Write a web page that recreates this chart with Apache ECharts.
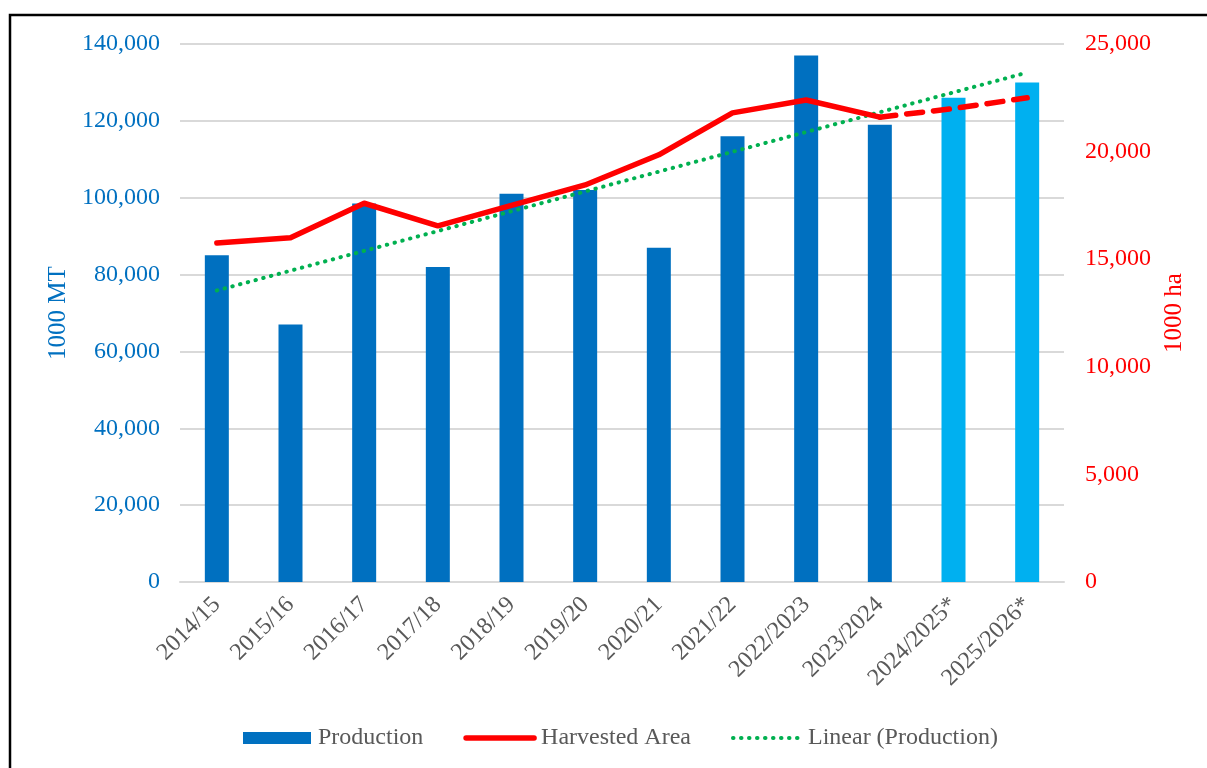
<!DOCTYPE html>
<html>
<head>
<meta charset="utf-8">
<script src="https://cdn.jsdelivr.net/npm/echarts@6/dist/echarts.min.js"></script>
<style>
  html, body { margin: 0; padding: 0; background: #fff; }
  #chart { width: 1207px; height: 768px; }
</style>
</head>
<body>
<div id="chart"></div>
<script>
// Marketing years on the category axis (* = forecast)
const seasons = ['2014/15', '2015/16', '2016/17', '2017/18', '2018/19', '2019/20',
  '2020/21', '2021/22', '2022/2023', '2023/2024', '2024/2025*', '2025/2026*'];

// Production, 1000 MT
const production = [85000, 67000, 98500, 82000, 101000, 102000,
  87000, 116000, 137000, 119000, 126000, 130000];

// Harvested area, 1000 ha (reported years, then forecast years)
const harvestedArea = [15750, 16000, 17600, 16550, 17500, 18450,
  19850, 21800, 22400, 21600, null, null];
const harvestedForecast = [null, null, null, null, null, null,
  null, null, null, 21600, 22000, 22500];

// Number of forecast seasons shown in the lighter bar colour
const forecastCount = 2;

// Axis tick settings
const prodTicks = { min: 0, max: 140000, interval: 20000 };
const areaTicks = { min: 0, max: 25000, interval: 5000 };

// Least-squares linear trend of production over the season index
function linearTrend(values) {
  const n = values.length;
  let sx = 0, sy = 0, sxx = 0, sxy = 0;
  values.forEach((y, i) => { const x = i + 1; sx += x; sy += y; sxx += x * x; sxy += x * y; });
  const slope = (n * sxy - sx * sy) / (n * sxx - sx * sx);
  const icpt = (sy - slope * sx) / n;
  return values.map((_, i) => slope * (i + 1) + icpt);
}
const trend = linearTrend(production);

const SERIF = '"Liberation Serif", "Times New Roman", serif';
const BLUE = '#0070C0';
const LIGHT_BLUE = '#00B0F0';
const RED = '#FF0000';
const GREEN = '#00B050';

const redLine = { color: RED, width: 5.5, cap: 'round', join: 'round' };
const greenDots = { color: GREEN, width: 4, type: [0.5, 7.5], cap: 'round' };

const chart = echarts.init(document.getElementById('chart'), null, { renderer: 'canvas' });

chart.setOption({
  backgroundColor: '#ffffff',
  animation: false,
  graphic: [{
    type: 'rect',
    shape: { x: 10, y: 15, width: 1400, height: 900 },
    style: { fill: 'none', stroke: '#000', lineWidth: 2.5 },
    z: 100
  }],
  grid: { left: 180, right: 143, top: 44, bottom: 186 },
  legend: {
    left: 238,
    top: 721,
    itemWidth: 68,
    itemHeight: 12,
    itemGap: 40,
    data: [
      { name: 'Production', icon: 'rect' },
      { name: 'Harvested Area', itemStyle: { opacity: 0 }, lineStyle: redLine },
      { name: 'Linear (Production)', itemStyle: { opacity: 0 }, lineStyle: greenDots }
    ],
    textStyle: { fontFamily: SERIF, fontSize: 24, color: '#595959', padding: [0, 0, 0, 2] }
  },
  xAxis: {
    type: 'category',
    data: seasons,
    axisLine: { lineStyle: { color: '#d9d9d9', width: 2 } },
    axisTick: { show: false },
    axisLabel: {
      rotate: 45,
      margin: 19,
      interval: 0,
      fontFamily: SERIF,
      fontSize: 24,
      color: '#595959'
    }
  },
  yAxis: [{
    type: 'value',
    min: prodTicks.min, max: prodTicks.max, interval: prodTicks.interval,
    name: '1000 MT',
    nameLocation: 'middle',
    nameRotate: 90,
    nameGap: 106,
    nameTextStyle: { fontFamily: SERIF, fontSize: 25, color: BLUE },
    axisLine: { show: false },
    axisTick: { show: false },
    axisLabel: {
      margin: 20,
      fontFamily: SERIF, fontSize: 24, color: BLUE,
      formatter: v => v.toLocaleString('en-US')
    },
    splitLine: { lineStyle: { color: '#d9d9d9', width: 2 } }
  }, {
    type: 'value',
    position: 'right',
    min: areaTicks.min, max: areaTicks.max, interval: areaTicks.interval,
    name: '1000 ha',
    nameLocation: 'middle',
    nameRotate: 90,
    nameGap: 96,
    nameTextStyle: { fontFamily: SERIF, fontSize: 25, color: RED },
    axisLine: { show: false },
    axisTick: { show: false },
    axisLabel: {
      margin: 21,
      fontFamily: SERIF, fontSize: 24, color: RED,
      formatter: v => v.toLocaleString('en-US')
    },
    splitLine: { show: false }
  }],
  series: [{
    name: 'Production',
    type: 'bar',
    yAxisIndex: 0,
    barWidth: 24,
    itemStyle: { color: BLUE },
    data: production.map((v, i) => (
      i >= production.length - forecastCount
        ? { value: v, itemStyle: { color: LIGHT_BLUE } }
        : v
    )),
    z: 2
  }, {
    name: 'Harvested Area',
    type: 'line',
    yAxisIndex: 1,
    data: harvestedArea,
    symbol: 'none',
    lineStyle: redLine,
    itemStyle: { color: RED },
    z: 4
  }, {
    name: 'Harvested Area (forecast)',
    type: 'line',
    yAxisIndex: 1,
    data: harvestedForecast,
    symbol: 'none',
    lineStyle: Object.assign({}, redLine, { type: [16, 11] }),
    itemStyle: { color: RED },
    z: 4
  }, {
    name: 'Linear (Production)',
    type: 'line',
    yAxisIndex: 0,
    data: trend,
    symbol: 'none',
    lineStyle: greenDots,
    itemStyle: { color: GREEN },
    z: 3
  }]
});
</script>
</body>
</html>
